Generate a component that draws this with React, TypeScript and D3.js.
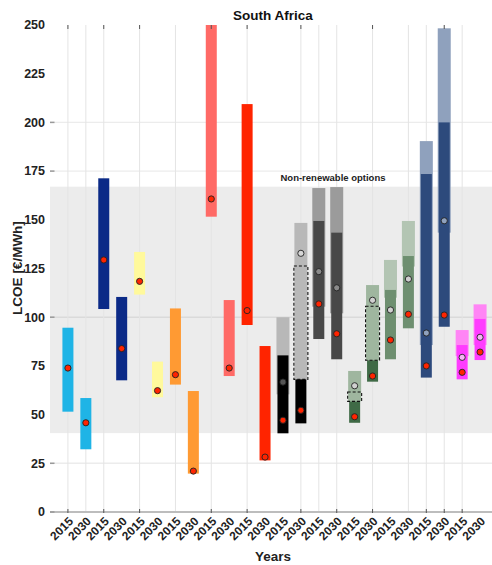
import React from "react";
import * as d3 from "d3";

// Technology groups, each reported for 2015 and 2030
const years = [
  "2015", "2030", "2015", "2030", "2015", "2030", "2015", "2030",
  "2015", "2030", "2015", "2030", "2015", "2030", "2015", "2030",
  "2015", "2030", "2015", "2030", "2015", "2030", "2015", "2030",
];

// Main LCOE range (€/MWh)
const rangeLow = [51.5, 32.2, 104.2, 67.6, 111.6, 58.9, 65.4, 19.7, 151.6, 69.8, 96.0, 26.5,
  40.4, 45.5, 88.8, 78.4, 45.8, 66.9, 78.4, 94.3, 69.0, 95.1, 68.1, 78.0];
const rangeHigh = [94.6, 58.5, 171.3, 110.4, 133.5, 77.2, 104.5, 62.1, 250, 108.8, 209.4, 85.2,
  80.4, 68.1, 149.4, 143.4, 56.8, 77.9, 114.0, 131.4, 173.5, 200.0, 85.7, 99.1];

// Extended range incl. additional cost components (null = none)
const extLow: (number | null)[] = [null, null, null, null, null, null, null, null, null, null, null, null,
  60.4, 68.1, 105.4, 102.0, 56.8, 77.9, 110.0, 126.0, 85.7, 143.4, 80.0, 85.7];
const extHigh: (number | null)[] = [null, null, null, null, null, null, null, null, null, null, null, null,
  100.0, 148.4, 166.3, 166.8, 72.4, 116.5, 129.4, 149.4, 190.4, 248.3, 93.4, 106.6];

// Uncertain share of the extended range (dashed outline)
const dashLow: (number | null)[] = [null, null, null, null, null, null, null, null, null, null, null, null,
  null, 68.1, null, null, 56.8, 77.9, null, null, null, null, null, null];
const dashHigh: (number | null)[] = [null, null, null, null, null, null, null, null, null, null, null, null,
  null, 126.3, null, null, 61.6, 105.6, null, null, null, null, null, null];

// Central estimates
const centralValue = [73.9, 45.8, 129.4, 83.9, 118.4, 62.3, 70.5, 21.0, 160.7, 73.9, 103.4, 28.2,
  47.1, 52.2, 106.8, 91.5, 48.9, 69.8, 88.3, 101.5, 75.0, 101.1, 71.7, 82.1];
const centralExtValue: (number | null)[] = [null, null, null, null, null, null, null, null, null, null, null, null,
  66.7, 132.8, 123.4, 115.1, 64.8, 108.7, 103.7, 119.6, 91.9, 149.5, 79.4, 89.7];

const yTicks = [0, 25, 50, 75, 100, 125, 150, 175, 200, 225, 250];

// Fill colours
const mainColors = ["#1fb4e6", "#1fb4e6", "#0b2a87", "#0b2a87", "#fff99c", "#fff99c", "#ff9a33", "#ff9a33",
  "#ff6a66", "#ff6a66", "#ff2400", "#ff2400", "#000000", "#000000", "#484848", "#484848",
  "#3f6a46", "#3f6a46", "#6e8f70", "#6e8f70", "#2d4a7c", "#2d4a7c", "#ff3cff", "#ff3cff"];
const extColors = ["", "", "", "", "", "", "", "", "", "", "", "",
  "#b8b8b8", "#b8b8b8", "#9b9b9b", "#9b9b9b", "#9fb69f", "#9fb69f", "#b3c5b3", "#b3c5b3",
  "#8fa1bd", "#8fa1bd", "#ff85f5", "#ff85f5"];
const extDotColors = ["", "", "", "", "", "", "", "", "", "", "", "",
  "#555555", "#d6d6d6", "#8a8a8a", "#8a8a8a", "#d0d0d0", "#d0d0d0", "#d0d0d0", "#d0d0d0",
  "#8fa1bd", "#8fa1bd", "#f5b5f5", "#f5b5f5"];

const gridIdx = [0, 1, 2, 4, 6, 8, 10, 13, 14, 15, 17, 19, 20, 21, 22];
const bottomTickIdx = [0, 2, 4, 8, 10, 13, 15, 17, 20, 21, 22];
const topTickIdx = [0, 2, 4, 8, 10, 13, 17, 21];
const yGridValues = [0, 25, 100, 175, 200];

const W = 492;
const H = 565;
const left = 50;
const right = 498;
const top = 25;
const bottom = 512;

export default function App() {
  const keys = years.map((_, i) => String(i));
  const x = d3.scalePoint<string>().domain(keys).range([left, right]).padding(1);
  const y = d3.scaleLinear().domain([0, 250]).range([bottom, top]);
  const font = "'Liberation Sans', Arial, sans-serif";
  const bw = 11;
  const ew = 13;
  const dw = 14;

  return (
    <svg width={W} height={H} style={{ position: "absolute", left: 0, top: 0, background: "#fff" }} fontFamily={font}>
      <defs>
        <clipPath id="plot">
          <rect x={left} y={top} width={W - left} height={bottom - top} />
        </clipPath>
      </defs>

      {/* non-renewable band */}
      <rect x={left} y={y(167)} width={W - left} height={y(40.5) - y(167)} fill="#ececec" />

      {/* grid */}
      {yGridValues.map((v) => (
        <line key={"hg" + v} x1={left} x2={W} y1={y(v)} y2={y(v)} stroke={v >= 40 && v <= 167 ? "#dadada" : "#ececec"} strokeWidth={1.4} />
      ))}
      {gridIdx.map((i) => (
        <line key={"vg" + i} x1={x(String(i))!} x2={x(String(i))!} y1={top} y2={bottom} stroke="#e4e4e4" strokeWidth={1} />
      ))}

      <g clipPath="url(#plot)">
        {keys.map((k, i) => {
          const cx = x(k)!;
          const parts: React.ReactNode[] = [];
          if (extLow[i] != null && extHigh[i] != null) {
            parts.push(
              <rect key="e" x={cx - ew / 2} y={y(extHigh[i]!)} width={ew} height={y(extLow[i]!) - y(extHigh[i]!)} fill={extColors[i]} />
            );
          }
          parts.push(
            <rect key="m" x={cx - bw / 2} y={y(rangeHigh[i])} width={bw} height={y(rangeLow[i]) - y(rangeHigh[i])} fill={mainColors[i]} />
          );
          if (dashLow[i] != null && dashHigh[i] != null) {
            parts.push(
              <rect key="d" x={cx - dw / 2} y={y(dashHigh[i]!)} width={dw} height={y(dashLow[i]!) - y(dashHigh[i]!)} fill="none" stroke="#111" strokeWidth={1.1} strokeDasharray="3,2" />
            );
          }
          if (centralExtValue[i] != null) {
            parts.push(
              <circle key="ge" cx={cx} cy={y(centralExtValue[i]!)} r={3.1} fill={extDotColors[i]} stroke="#222" strokeWidth={0.9} />
            );
          }
          parts.push(
            <circle key="c" cx={cx} cy={y(centralValue[i])} r={3.1} fill="#ff2400" stroke="#222" strokeWidth={0.9} />
          );
          return <g key={k}>{parts}</g>;
        })}
      </g>

      {/* axes */}
      <line x1={left} x2={W} y1={bottom} y2={bottom} stroke="#bdbdbd" strokeWidth={2} />
      {bottomTickIdx.map((i) => (
        <line key={"bt" + i} x1={x(String(i))!} x2={x(String(i))!} y1={bottom - 3} y2={bottom + 1} stroke="#555" strokeWidth={1} />
      ))}
      {topTickIdx.map((i) => (
        <line key={"tt" + i} x1={x(String(i))!} x2={x(String(i))!} y1={top} y2={top + 4} stroke="#555" strokeWidth={1} />
      ))}
      {[0, 25, 100, 175, 200].map((v) => (
        <line key={"yt" + v} x1={left} x2={left + 4.5} y1={y(v)} y2={y(v)} stroke="#999" strokeWidth={1.5} />
      ))}
      {yTicks.map((v) => (
        <text key={"yl" + v} x={45} y={y(v)} dy="0.35em" textAnchor="end" fontSize={12.5} fontWeight="bold" fill="#222">
          {v}
        </text>
      ))}
      {keys.map((k, i) => (
        <text key={"xl" + k} transform={`translate(${x(k)! + 6},${bottom + 10}) rotate(-45)`} textAnchor="end" fontSize={12} fontWeight="bold" fill="#222">
          {years[i]}
        </text>
      ))}

      <text x={333} y={181} textAnchor="middle" fontSize={9.5} fontWeight="bold" fill="#222">Non-renewable options</text>
      <text x={273} y={20} textAnchor="middle" fontSize={13.5} fontWeight="bold" fill="#111">South Africa</text>
      <text transform={`translate(22,268) rotate(-90)`} textAnchor="middle" fontSize={13.5} fontWeight="bold" fill="#222">LCOE [€/MWh]</text>
      <text x={273} y={561} textAnchor="middle" fontSize={13.5} fontWeight="bold" fill="#222">Years</text>
    </svg>
  );
}
